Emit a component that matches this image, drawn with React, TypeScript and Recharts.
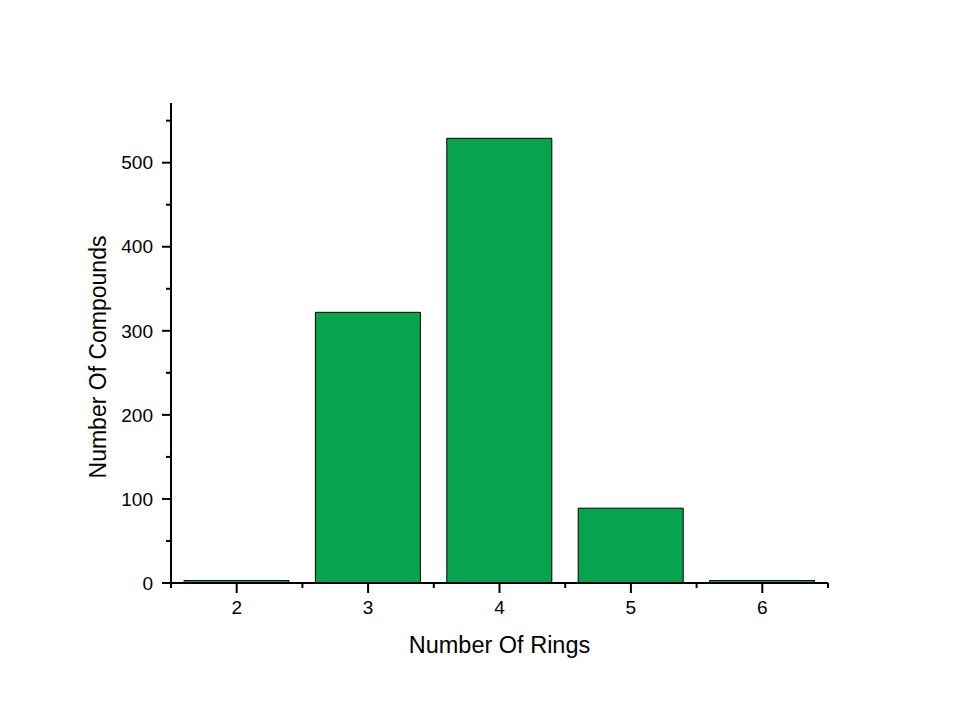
import React from 'react';
import { BarChart, Bar, XAxis, YAxis, Label } from 'recharts';

const rings = [2, 3, 4, 5, 6];
const compounds = [3, 322, 529, 89, 3];
// major ticks are the whole numbers / hundreds, the rest are minor ticks
const xTicks = [1.5, 2, 2.5, 3, 3.5, 4, 4.5, 5, 5.5, 6, 6.5];
const yTicks = [0, 50, 100, 150, 200, 250, 300, 350, 400, 450, 500, 550];

const data = rings.map((r, i) => ({ rings: r, count: compounds[i] }));

const font = 'Arial, "Liberation Sans", sans-serif';
const axisLine = { stroke: '#000', strokeWidth: 2 };

const XTick = (props: any) => {
  const { x, y, payload } = props;
  const major = Number.isInteger(payload.value);
  return (
    <g>
      <line x1={x} x2={x} y1={y} y2={y + (major ? 10 : 5)} stroke="#000" strokeWidth={2} />
      {major && (
        <text x={x} y={y + 18} dy="0.71em" textAnchor="middle" style={{ fill: '#000', fontSize: 19, fontFamily: font }}>
          {payload.value}
        </text>
      )}
    </g>
  );
};

const YTick = (props: any) => {
  const { x, y, payload } = props;
  const major = payload.value % 100 === 0;
  return (
    <g>
      <line x1={x} x2={x - (major ? 9 : 5)} y1={y} y2={y} stroke="#000" strokeWidth={2} />
      {major && (
        <text x={x - 18} y={y} dy="0.355em" textAnchor="end" style={{ fill: '#000', fontSize: 19, fontFamily: font }}>
          {payload.value}
        </text>
      )}
    </g>
  );
};

const YTitle = (props: any) => {
  const vb = props.viewBox || { x: 0, y: 0, width: 0, height: 0 };
  const x = vb.x + 98;
  const y = vb.y + vb.height / 2 + 14;
  return (
    <text
      x={x}
      y={y}
      transform={`rotate(-90, ${x}, ${y})`}
      textAnchor="middle"
      dominantBaseline="central"
      style={{ fill: '#000', fontSize: 23, fontFamily: font }}
    >
      Number Of Compounds
    </text>
  );
};

export default function App() {
  return (
    <div style={{ position: 'absolute', left: 0, top: 0, width: 960, height: 720, background: '#fff', fontFamily: font }}>
      <BarChart width={960} height={720} data={data} margin={{ top: 103, right: 132, left: 0, bottom: 62 }}>
        <XAxis
          dataKey="rings"
          type="number"
          domain={[1.5, 6.5]}
          ticks={xTicks}
          interval={0}
          tickSize={0}
          tickMargin={0}
          tickLine={false}
          axisLine={axisLine}
          tick={<XTick />}
          height={75}
        >
          <Label value="Number Of Rings" position="insideBottom" offset={5} style={{ fill: '#000', fontSize: 23.5, fontFamily: font }} />
        </XAxis>
        <YAxis
          type="number"
          domain={[0, 571]}
          ticks={yTicks}
          interval={0}
          tickSize={0}
          tickMargin={0}
          tickLine={false}
          axisLine={axisLine}
          tick={<YTick />}
          width={171}
        >
          <Label content={YTitle} />
        </YAxis>
        <Bar dataKey="count" fill="#07A44D" stroke="#000" strokeWidth={1} barSize={105} isAnimationActive={false} />
      </BarChart>
    </div>
  );
}
